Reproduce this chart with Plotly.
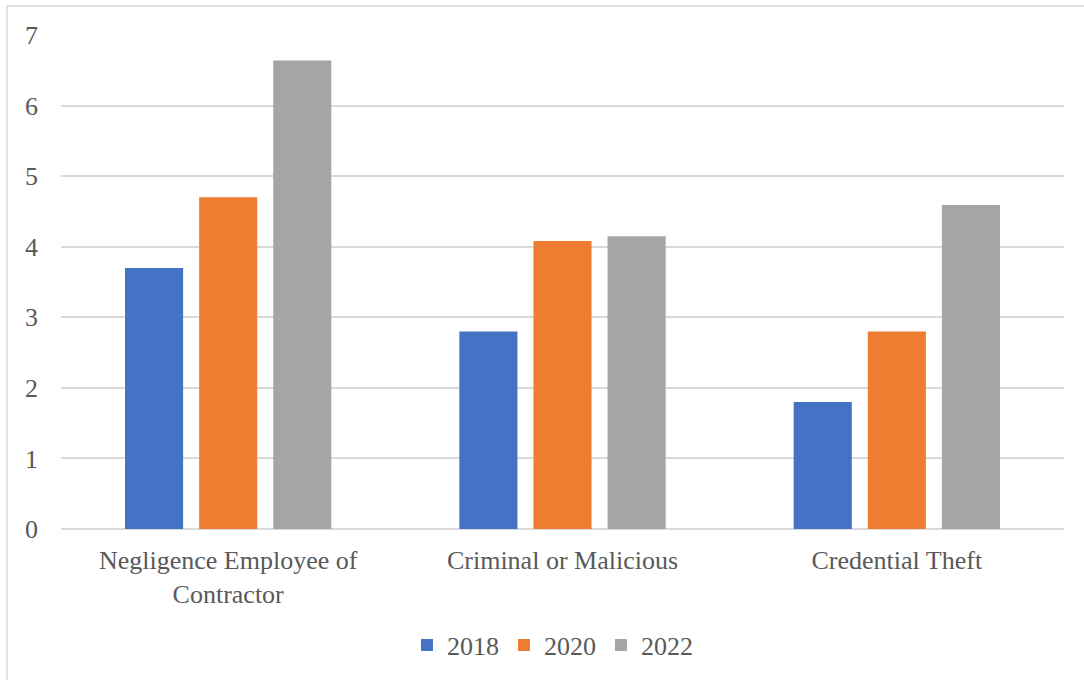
import plotly.graph_objects as go

categories = ["Negligence Employee of<br>Contractor", "Criminal or Malicious", "Credential Theft"]
years = ["2018", "2020", "2022"]
values_2018 = [3.7, 2.8, 1.8]
values_2020 = [4.7, 4.08, 2.8]
values_2022 = [6.64, 4.15, 4.59]
colors = ["#4472C4", "#ED7D31", "#A5A5A5"]

font_family = "Liberation Serif"
text_color = "#595959"

fig = go.Figure()
for name, vals, col in zip(years, [values_2018, values_2020, values_2022], colors):
    fig.add_trace(go.Bar(
        x=categories, y=vals, name=name,
        marker=dict(color=col, line=dict(width=0)),
    ))

fig.update_layout(
    width=1084, height=680,
    margin=dict(l=61, r=20, t=35, b=151),
    paper_bgcolor="white", plot_bgcolor="white",
    barmode="group", bargap=0.335, bargroupgap=0.216,
    font=dict(family=font_family, size=26, color=text_color),
    showlegend=True,
    legend=dict(
        orientation="h", x=0.49, xanchor="center", y=-0.235, yanchor="middle",
        font=dict(family=font_family, size=26, color=text_color),
        itemwidth=30, traceorder="normal",
    ),
    xaxis=dict(
        showgrid=False, showline=False, zeroline=False,
        tickfont=dict(family=font_family, size=26, color=text_color),
        ticks="outside", ticklen=8, tickcolor="rgba(0,0,0,0)",
    ),
    yaxis=dict(
        range=[0, 7], dtick=1, showgrid=True, gridcolor="#D9D9D9", gridwidth=1.5,
        zeroline=True, zerolinecolor="#D9D9D9", zerolinewidth=1.5,
        showline=False,
        tickfont=dict(family=font_family, size=26, color=text_color),
        ticklabelstandoff=22,
    ),
    shapes=[dict(
        type="rect", xref="paper", yref="paper",
        x0=(7 - 61) / 1003, x1=1.05, y0=-0.5, y1=1 + (35 - 6) / 494,
        line=dict(color="#D9D9D9", width=1.5), fillcolor="rgba(0,0,0,0)",
        layer="below",
    )],
)

fig.write_html("out.html")
